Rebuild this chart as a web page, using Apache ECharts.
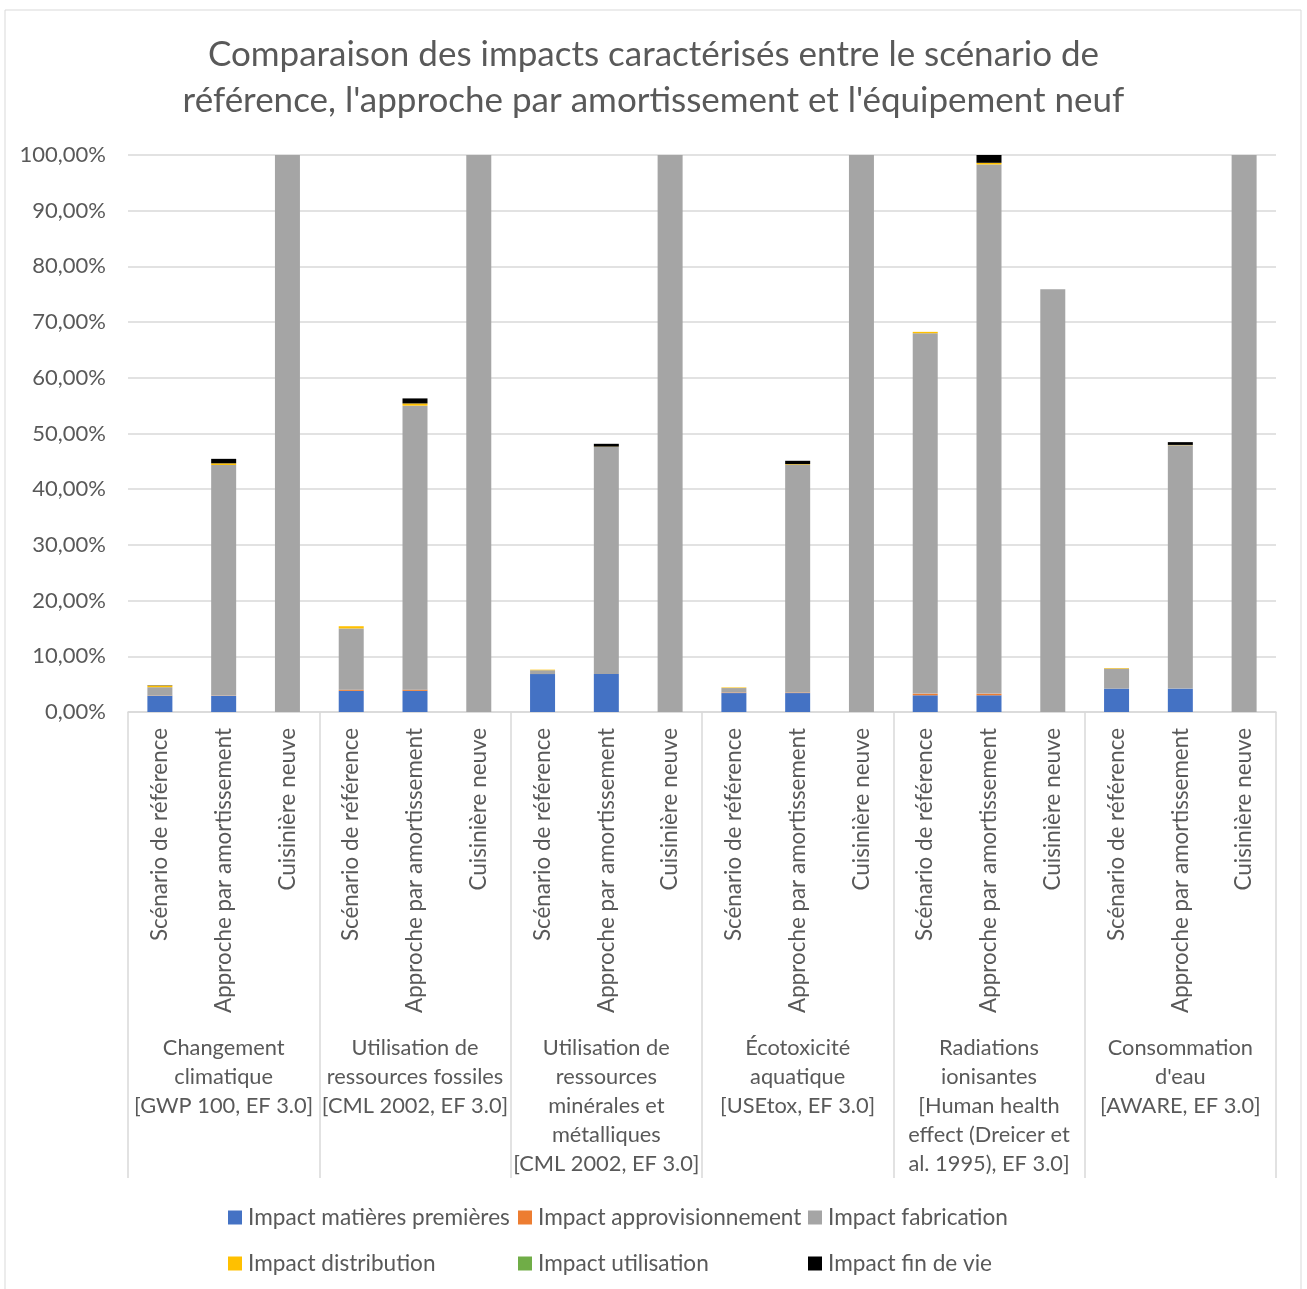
<!DOCTYPE html>
<html><head><meta charset="utf-8">
<script src="https://cdn.jsdelivr.net/npm/echarts@6/dist/echarts.min.js"></script>
<style>html,body{margin:0;padding:0;background:#fff}#c{width:1307px;height:1289px}</style>
</head><body><div id="c"></div>
<script>
var categories = [
 "Scénario de référence","Approche par amortissement","Cuisinière neuve",
 "Scénario de référence","Approche par amortissement","Cuisinière neuve",
 "Scénario de référence","Approche par amortissement","Cuisinière neuve",
 "Scénario de référence","Approche par amortissement","Cuisinière neuve",
 "Scénario de référence","Approche par amortissement","Cuisinière neuve",
 "Scénario de référence","Approche par amortissement","Cuisinière neuve"];
var groups = [
 "Changement\nclimatique\n[GWP 100, EF 3.0]",
 "Utilisation de\nressources fossiles\n[CML 2002, EF 3.0]",
 "Utilisation de\nressources\nminérales et\nmétalliques\n[CML 2002, EF 3.0]",
 "Écotoxicité\naquatique\n[USEtox, EF 3.0]",
 "Radiations\nionisantes\n[Human health\neffect (Dreicer et\nal. 1995), EF 3.0]",
 "Consommation\nd'eau\n[AWARE, EF 3.0]"];
var seriesNames = ["Impact matières premières","Impact approvisionnement","Impact fabrication","Impact distribution","Impact utilisation","Impact fin de vie"];
var matieres      = [2.9,2.9,0, 3.8,3.8,0, 6.8,6.8,0, 3.4,3.4,0, 3.0,3.0,0, 4.2,4.2,0];
var approvision   = [0.05,0.05,0, 0.2,0.2,0, 0,0,0, 0.1,0.1,0, 0.3,0.3,0, 0,0,0];
var fabrication   = [1.5,41.4,100, 11.0,51.0,100, 0.7,40.8,100, 0.8,40.9,100, 64.7,95.0,75.9, 3.6,43.7,100];
var distribution  = [0.3,0.3,0, 0.4,0.4,0, 0.1,0.05,0, 0.1,0.1,0, 0.25,0.3,0, 0.1,0.05,0];
var utilisation   = [0,0,0, 0,0,0, 0,0,0, 0,0,0, 0,0,0, 0,0,0];
var finDeVie      = [0.05,0.8,0, 0,0.9,0, 0,0.5,0, 0,0.6,0, 0,1.4,0, 0,0.5,0];
var yTicks = [0,10,20,30,40,50,60,70,80,90,100];

var colors = ["#4472C4","#ED7D31","#A5A5A5","#FFC000","#70AD47","#000000"];
var values = [matieres, approvision, fabrication, distribution, utilisation, finDeVie];
var txt = "#595959", grid = "#d9d9d9";
var font = "Lato";
var fs = 22;

var series = seriesNames.map(function(n,i){
  return {name:n,type:'bar',stack:'t',barWidth:25,xAxisIndex:0,
    itemStyle:{color:colors[i]},data:values[i],animation:false};
});

function legend(left, items){
  return {left:left, top:1206, orient:'vertical', itemGap:23, itemWidth:14, itemHeight:14, padding:0,
    icon:'rect', data:items, textStyle:{color:txt, fontSize:22.6, fontFamily:font, padding:[0,0,0,1]}};
}

var chart = echarts.init(document.getElementById('c'));
chart.setOption({
  animation:false,
  textStyle:{fontFamily:font},
  color:colors,
  graphic:[{type:'rect',shape:{x:5,y:10,width:1296,height:1290},style:{fill:'none',stroke:grid,lineWidth:1},silent:true}],
  title:{text:"Comparaison des impacts caractérisés entre le scénario de\nréférence, l'approche par amortissement et l'équipement neuf",
    left:'center', top:32, padding:0, textStyle:{color:txt, fontSize:35, fontWeight:'normal', fontFamily:font, lineHeight:46}},
  legend:[
    legend(228,[seriesNames[0],seriesNames[3]]),
    legend(518,[seriesNames[1],seriesNames[4]]),
    legend(808,[seriesNames[2],seriesNames[5]])
  ],
  grid:{left:128,right:31,top:155,bottom:577,containLabel:false},
  xAxis:[
    {type:'category',data:categories,position:'bottom',
     axisLine:{lineStyle:{color:grid,width:1.5}},axisTick:{show:false},
     axisLabel:{rotate:90,margin:16,color:txt,fontSize:22.4,fontFamily:font,interval:0}},
    {type:'category',data:groups,position:'bottom',
     axisLine:{show:false},
     axisTick:{show:true,length:466,lineStyle:{color:grid,width:1.5}},
     axisLabel:{margin:321,color:txt,fontSize:21.8,fontFamily:font,lineHeight:29,interval:0,verticalAlign:'top'}}
  ],
  yAxis:{type:'value',min:0,max:100,interval:10,
    axisLine:{show:false},axisTick:{show:false},
    splitLine:{lineStyle:{color:grid,width:1.5}},
    axisLabel:{color:txt,fontSize:fs,fontFamily:font,margin:22,
      formatter:function(v){return v.toFixed(2).replace('.',',')+'%';}}},
  series:series
});
</script></body></html>
